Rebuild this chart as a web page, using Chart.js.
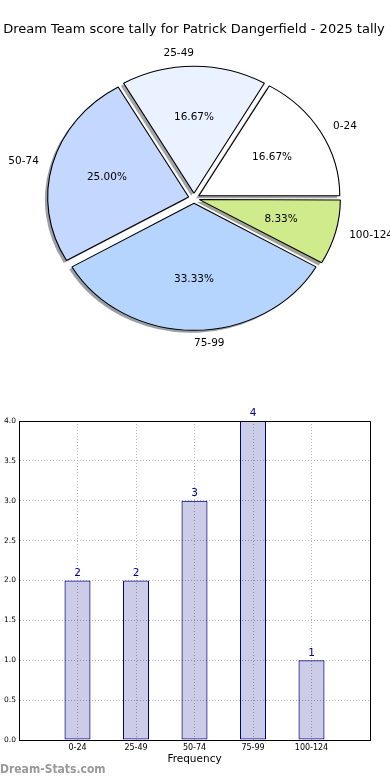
<!DOCTYPE html>
<html><head><meta charset="utf-8">
<script src="https://cdn.jsdelivr.net/npm/chart.js@4/dist/chart.umd.min.js"></script>
<style>
html,body{margin:0;padding:0;background:#fff;width:390px;height:780px;overflow:hidden;position:relative}
#pieWrap{position:absolute;left:0;top:0;width:390px;height:370px}
#barWrap{position:absolute;left:0;top:400px;width:390px;height:380px}
#wm{position:absolute;left:0;top:762px;font:bold 12px "DejaVu Sans Condensed","DejaVu Sans",sans-serif;color:#999;white-space:nowrap}
</style></head><body>
<div id="pieWrap"><canvas id="pie"></canvas></div>
<div id="barWrap"><canvas id="bar"></canvas></div>
<div id="wm">Dream-Stats.com</div>
<script>
const chartTitle = 'Dream Team score tally for Patrick Dangerfield - 2025 tally';
const categories = ['0-24', '25-49', '50-74', '75-99', '100-124'];
const counts = [2, 2, 3, 4, 1];
const pieColors = ['#ffffff', '#ebf2ff', '#c4d8ff', '#b5d5ff', '#d0eb8b'];
const yTicks = [0, 0.5, 1, 1.5, 2, 2.5, 3, 3.5, 4];
const xTitle = 'Frequency';

const FAM = '"DejaVu Sans", sans-serif';
Chart.defaults.font.family = FAM;
Chart.defaults.color = '#000';

/* ---------- pie ---------- */
const total = counts.reduce((a, b) => a + b, 0);
const order = [4, 3, 2, 1, 0]; // clockwise from 3 o'clock
const pieLabels = order.map(i => categories[i]);
const pieData = order.map(i => counts[i]);
const pieBg = order.map(i => pieColors[i]);
const SX = 1.11, R = 127, OFF = 5, DIV = 4;

function shadowColor(hex) {
  const r = parseInt(hex.slice(1, 3), 16), g = parseInt(hex.slice(3, 5), 16), b = parseInt(hex.slice(5, 7), 16);
  return `rgba(${Math.round(r * 0.3)},${Math.round(g * 0.3)},${Math.round(b * 0.3)},0.5)`;
}

const ellipsePlugin = {
  id: 'ellipse',
  beforeDatasetsDraw(chart) {
    const ctx = chart.ctx;
    const meta = chart.getDatasetMeta(0);
    const cx = meta.data[0].x, cy = meta.data[0].y;
    ctx.save();
    ctx.translate(cx, cy); ctx.scale(SX, 1); ctx.translate(-cx, -cy);
    meta.data.forEach((arc, i) => {
      const c = arc.endAngle - arc.startAngle;
      const fix = 1 - Math.sin(Math.min(Math.PI, c));
      arc.outerRadius = R - OFF * fix;
      const mid = (arc.startAngle + arc.endAngle) / 2;
      const ox = cx + Math.cos(mid) * OFF - 2.5, oy = cy + Math.sin(mid) * OFF + 2.5;
      ctx.beginPath();
      ctx.moveTo(ox, oy);
      ctx.arc(ox, oy, R, arc.startAngle, arc.endAngle);
      ctx.closePath();
      ctx.fillStyle = shadowColor(pieBg[i]);
      ctx.fill();
    });
  },
  afterDatasetsDraw(chart) {
    const ctx = chart.ctx;
    ctx.restore();
    const meta = chart.getDatasetMeta(0);
    const cx = meta.data[0].x, cy = meta.data[0].y;
    ctx.save();
    ctx.font = '10.5px ' + FAM;
    ctx.fillStyle = '#000';
    ctx.textBaseline = 'middle';
    meta.data.forEach((arc, i) => {
      const mid = (arc.startAngle + arc.endAngle) / 2;
      const co = Math.cos(mid), si = Math.sin(mid);
      const d1 = 1.1 * R + OFF;
      const lx = cx + co * d1 * SX, ly = cy + si * d1;
      ctx.textAlign = Math.abs(co) < 1e-6 ? (si < 0 ? 'right' : 'left') : (co > 0 ? 'left' : 'right');
      ctx.fillText(pieLabels[i], lx, ly);
      const d2 = 0.6 * R + OFF;
      ctx.textAlign = 'center';
      ctx.fillText((pieData[i] / total * 100).toFixed(2) + '%', cx + co * d2 * SX, cy + si * d2);
    });
    ctx.restore();
  }
};

new Chart(document.getElementById('pie'), {
  type: 'pie',
  data: {
    labels: pieLabels,
    datasets: [{
      data: pieData,
      backgroundColor: pieBg,
      borderColor: '#000',
      borderWidth: 1,
      offset: OFF * DIV,
      clip: false
    }]
  },
  options: {
    responsive: true, maintainAspectRatio: false, animation: false,
    rotation: 90,
    radius: R,
    layout: { padding: { left: 0, right: 2, top: 0, bottom: 11 } },
    plugins: {
      legend: { display: false },
      tooltip: { enabled: false },
      title: {
        display: true, text: chartTitle, color: '#000',
        font: { size: 13, weight: 'normal', family: FAM },
        padding: { top: 22, bottom: 0 }
      }
    }
  },
  plugins: [ellipsePlugin]
});

/* ---------- bar ---------- */
const xLabels = [''].concat(categories, ['']);
const barData = [null].concat(counts, [null]);

const barExtras = {
  id: 'barExtras',
  afterDatasetsDraw(chart) {
    const ctx = chart.ctx;
    const { left, right, top, bottom } = chart.chartArea;
    ctx.save();
    ctx.strokeStyle = '#000';
    ctx.lineWidth = 1;
    ctx.beginPath();
    ctx.moveTo(Math.round(left), Math.round(top) + 0.5);
    ctx.lineTo(Math.round(right) + 0.5, Math.round(top) + 0.5);
    ctx.lineTo(Math.round(right) + 0.5, Math.round(bottom));
    ctx.stroke();
    ctx.font = '10.5px ' + FAM;
    ctx.fillStyle = '#00008b';
    ctx.textAlign = 'center';
    ctx.textBaseline = 'bottom';
    const meta = chart.getDatasetMeta(0);
    meta.data.forEach((bar, i) => {
      const v = barData[i];
      if (v === null) return;
      ctx.fillText(String(v), bar.x, bar.y - 2);
    });
    ctx.restore();
  }
};

new Chart(document.getElementById('bar'), {
  type: 'bar',
  data: {
    labels: xLabels,
    datasets: [{
      data: barData,
      backgroundColor: 'rgba(0,0,128,0.2)',
      borderColor: '#00008b',
      borderWidth: 1,
      borderSkipped: false,
      categoryPercentage: 1,
      barPercentage: 0.445
    }]
  },
  options: {
    responsive: true, maintainAspectRatio: false, animation: false,
    layout: { padding: { top: 21, right: 20, left: 0, bottom: 0 } },
    plugins: { legend: { display: false }, tooltip: { enabled: false } },
    scales: {
      x: {
        type: 'category', offset: false,
        grid: { color: '#b5b5b5', drawTicks: false, lineWidth: 1, offset: false },
        border: { color: '#000', width: 1, dash: [1, 2] },
        ticks: { font: { size: 8, family: FAM }, color: '#000', padding: 3, autoSkip: false, maxRotation: 0 },
        title: { display: true, text: xTitle, color: '#000', font: { size: 10.5, family: FAM }, padding: { top: 0, bottom: 14 } },
        afterFit(s) { s.height = 40; }
      },
      y: {
        min: 0, max: 4,
        afterBuildTicks(s) { s.ticks = yTicks.map(v => ({ value: v })); },
        ticks: { callback: v => Number(v).toFixed(1), font: { size: 7.5, family: FAM }, color: '#000', padding: 3 },
        grid: { color: '#b5b5b5', drawTicks: false, lineWidth: 1 },
        border: { color: '#000', width: 1, dash: [1, 2] },
        afterFit(s) { s.width = 19; }
      }
    }
  },
  plugins: [barExtras]
});
</script>
</body></html>
